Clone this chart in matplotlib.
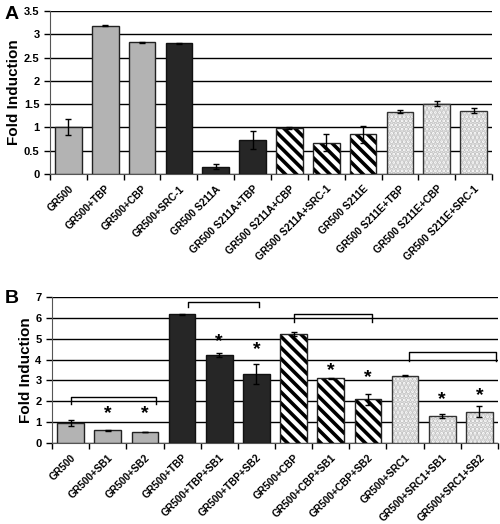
import matplotlib
matplotlib.use("Agg")
import numpy as np
import matplotlib.pyplot as plt

plt.rcParams['font.family'] = ['Liberation Sans', 'DejaVu Sans']
plt.rcParams['font.weight'] = 'bold'
plt.rcParams['hatch.linewidth'] = 2.6

# panel A
labels_a = ['GR500', 'GR500+TBP', 'GR500+CBP', 'GR500+SRC-1', 'GR500 S211A',
            'GR500 S211A+TBP', 'GR500 S211A+CBP', 'GR500 S211A+SRC-1', 'GR500 S211E',
            'GR500 S211E+TBP', 'GR500 S211E+CBP', 'GR500 S211E+SRC-1']
vals_a = [1.0, 3.18, 2.83, 2.81, 0.16, 0.73, 0.99, 0.67, 0.85, 1.34, 1.51, 1.36]
errs_a = [0.17, 0.01, 0.01, 0.01, 0.05, 0.19, 0.02, 0.18, 0.18, 0.04, 0.05, 0.05]
styles_a = ['gray', 'gray', 'gray', 'dark', 'dark', 'dark',
            'stripe', 'stripe', 'stripe', 'dots', 'dots', 'dots']

# panel B
labels_b = ['GR500', 'GR500+SB1', 'GR500+SB2', 'GR500+TBP', 'GR500+TBP+SB1',
            'GR500+TBP+SB2', 'GR500+CBP', 'GR500+CBP+SB1', 'GR500+CBP+SB2',
            'GR500+SRC1', 'GR500+SRC1+SB1', 'GR500+SRC1+SB2']
vals_b = [0.95, 0.6, 0.52, 6.18, 4.22, 3.3, 5.22, 3.1, 2.08, 3.22, 1.3, 1.5]
errs_b = [0.13, 0.02, 0.02, 0.02, 0.09, 0.48, 0.09, 0.03, 0.28, 0.03, 0.1, 0.28]
styles_b = ['gray', 'gray', 'gray', 'dark', 'dark', 'dark',
            'stripe', 'stripe', 'stripe', 'dots', 'dots', 'dots']
star_idx = [1, 2, 4, 5, 7, 8, 10, 11]
star_y = [1.39, 1.39, 4.86, 4.5, 3.47, 3.13, 2.09, 2.25]
# brackets: (x start, x end, top y, drop)
brackets = [(0.0, 2.3, 2.19, 0.35), (3.16, 5.07, 6.76, 0.22),
            (6.02, 8.12, 6.18, 0.4), (9.11, 11.44, 4.35, 0.4)]


def draw_panel(ax, labels, vals, errs, styles, ymax, ystep):
    x = np.arange(len(vals))
    w = 0.72
    for i in range(len(vals)):
        s = styles[i]
        if s == 'gray':
            ax.bar(x[i], vals[i], w, color='#b3b3b3', edgecolor='#222222', lw=1, zorder=3)
        elif s == 'dark':
            ax.bar(x[i], vals[i], w, color='#262626', edgecolor='#111111', lw=1, zorder=3)
        elif s == 'stripe':
            ax.bar(x[i], vals[i], w, color='white', edgecolor='black', hatch='\\\\\\', lw=0, zorder=3)
            ax.bar(x[i], vals[i], w, color='none', edgecolor='#222222', lw=1, zorder=4)
        else:
            ax.bar(x[i], vals[i], w, color='#fbfbfb', edgecolor='#c4c4c4', hatch='....', lw=0, zorder=3)
            ax.bar(x[i], vals[i], w, color='none', edgecolor='#333333', lw=1, zorder=4)
    ax.errorbar(x, vals, yerr=errs, fmt='none', ecolor='black', elinewidth=1,
                capsize=2.5, capthick=1, zorder=5)
    ax.set_xlim(-0.5, len(vals) - 0.5)
    ax.set_ylim(0, ymax)
    ax.set_yticks(np.arange(0, ymax + 0.01, ystep))
    ax.yaxis.grid(True, color='black', lw=1, zorder=0)
    ax.set_axisbelow(True)
    ax.set_xticks(x)
    ax.set_xticklabels(labels, rotation=45, ha='right', rotation_mode='anchor',
                       fontsize=7.3, fontweight='bold')
    ax.tick_params(axis='x', which='major', length=0, pad=7)
    ax.set_xticks(np.arange(-0.5, len(vals), 1.0), minor=True)
    ax.tick_params(axis='x', which='minor', length=4, width=1, direction='out')
    ax.tick_params(axis='y', length=4, width=1, labelsize=8, direction='out')
    for t in ax.get_yticklabels():
        t.set_fontweight('bold')
    ax.spines['right'].set_visible(False)
    ax.spines['top'].set_visible(False)
    ax.spines['left'].set_color('#555555')
    ax.spines['bottom'].set_color('#555555')
    ax.set_ylabel('Fold Induction', fontsize=11, fontweight='bold', labelpad=2)


fig = plt.figure(figsize=(5, 5.24), dpi=100)
ax1 = fig.add_axes([0.1, 0.668, 0.884, 0.311])
ax2 = fig.add_axes([0.104, 0.155, 0.892, 0.278])

draw_panel(ax1, labels_a, vals_a, errs_a, styles_a, 3.5, 0.5)
ax1.set_yticklabels(['0', '0.5', '1', '1.5', '2', '2.5', '3', '3.5'])
draw_panel(ax2, labels_b, vals_b, errs_b, styles_b, 7, 1)

for i, yv in zip(star_idx, star_y):
    ax2.text(i, yv, '*', ha='center', va='center', fontsize=14, fontweight='bold')
for x0, x1, yt, d in brackets:
    ax2.plot([x0, x0, x1, x1], [yt - d, yt, yt, yt - d], color='black', lw=1,
             clip_on=False, zorder=6)

fig.text(0.01, 0.972, 'A', fontsize=14, fontweight='bold', va='center')
fig.text(0.01, 0.43, 'B', fontsize=14, fontweight='bold', va='center')

fig.savefig('out.png', dpi=100)
